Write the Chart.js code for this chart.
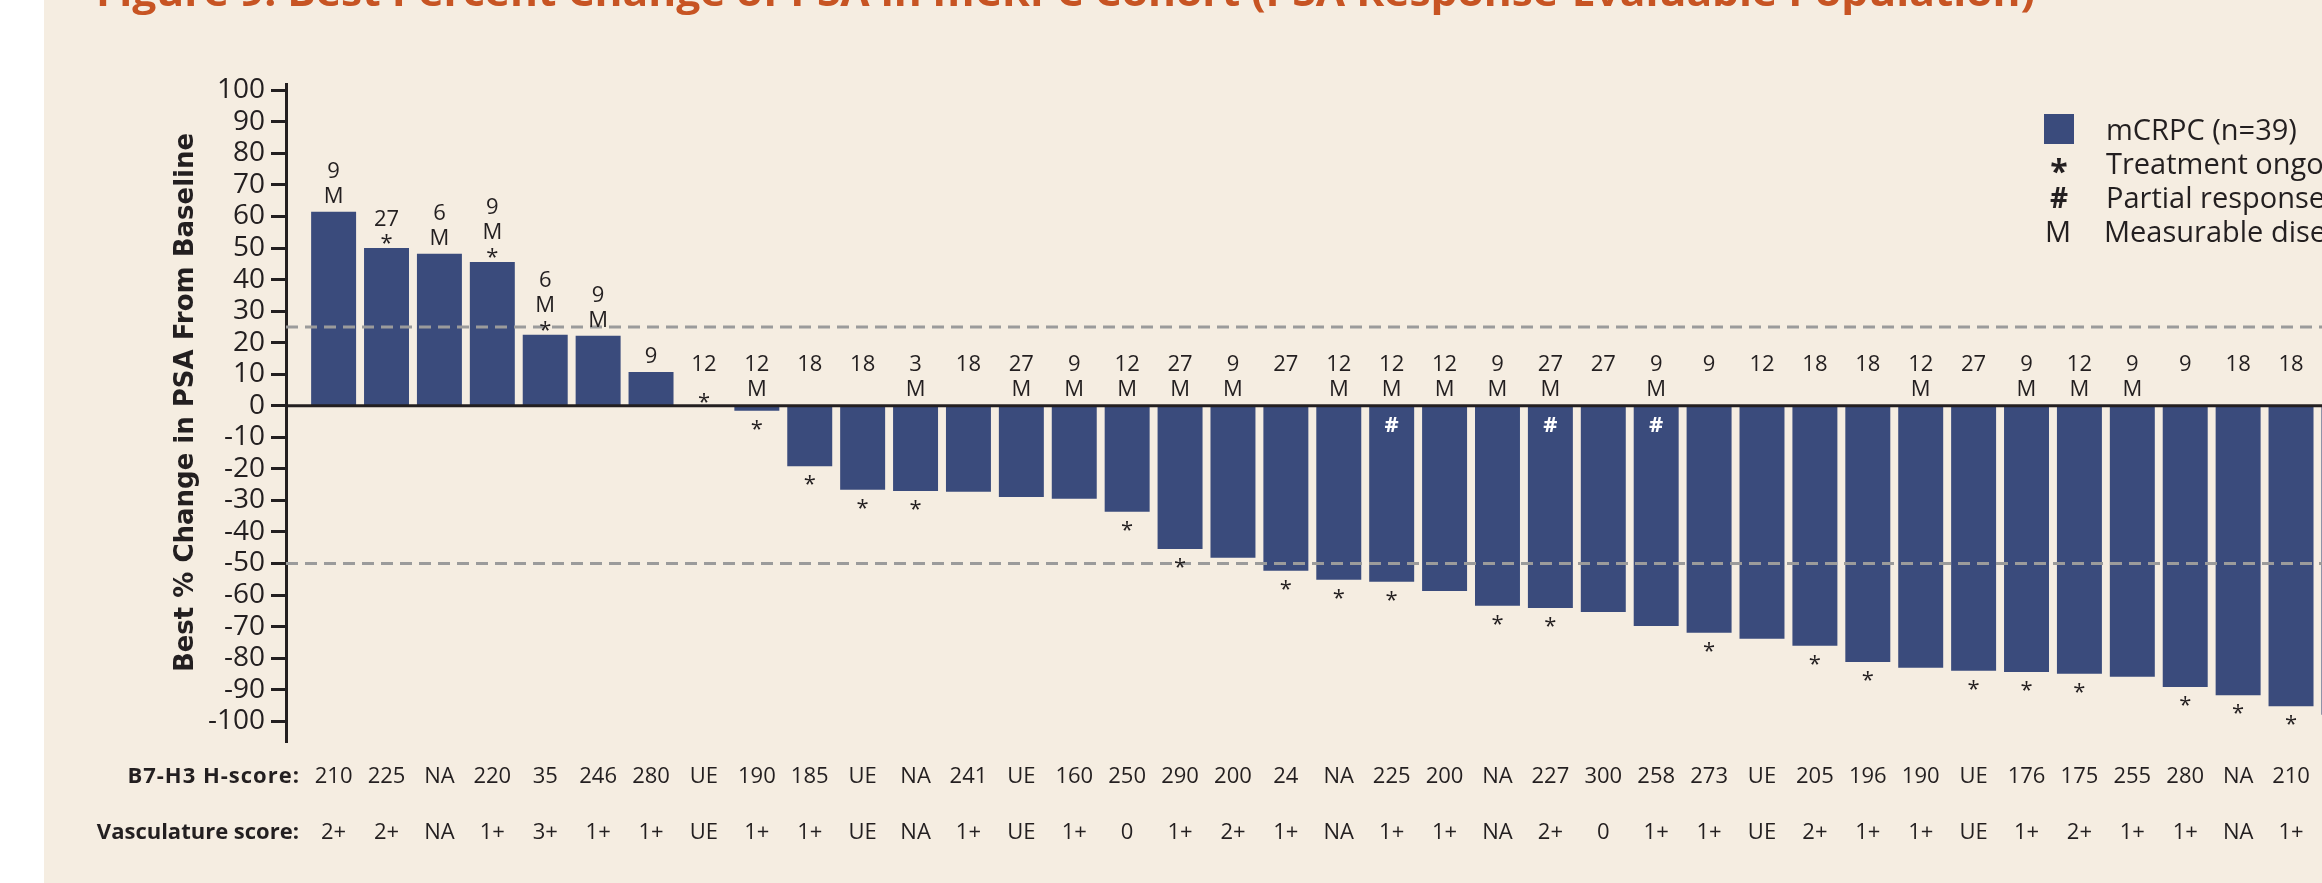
<!DOCTYPE html>
<html lang="en">
<head>
<meta charset="UTF-8">
<title>Best Percent Change of PSA in mCRPC Cohort</title>
<style>
  html, body { margin: 0; padding: 0; overflow: hidden; background: #fff; }
  #frame { position: relative; width: 2322px; height: 883px; overflow: hidden; background: #fff; }
  #paper { position: absolute; left: 44px; top: 0; right: 0; bottom: 0; background: #f5ede1; }
  #myChart { position: absolute; left: 0; top: 0; }
</style>
</head>
<body>
<div id="frame">
  <div id="paper"></div>
  <canvas id="myChart" width="2500" height="883"></canvas>
</div>

<script src="https://cdn.jsdelivr.net/npm/chart.js"></script>
<script>
  // best % change in PSA from baseline, one bar per patient (sorted)
  var psaChange = [61.5, 50.0, 48.2, 45.6, 22.5, 22.2, 10.7, 0, -1.6, -19.2,
    -26.6, -27.0, -27.3, -28.9, -29.5, -33.6, -45.4, -48.2, -52.3, -55.2,
    -55.8, -58.7, -63.4, -64.1, -65.4, -69.8, -72.0, -73.9, -76.1, -81.2,
    -83.1, -84.0, -84.4, -85.0, -85.9, -89.2, -91.8, -95.3, -98.0];

  // months on treatment, shown above each bar
  var months = ['9', '27', '6', '9', '6', '9', '9', '12', '12', '18',
    '18', '3', '18', '27', '9', '12', '27', '9', '27', '12',
    '12', '12', '9', '27', '27', '9', '9', '12', '18', '18',
    '12', '27', '9', '12', '9', '9', '18', '18', ''];

  // M = measurable disease, * = treatment ongoing, # = partial response
  var measurable = [1, 0, 1, 1, 1, 1, 0, 0, 1, 0, 0, 1, 0, 1, 1, 1, 1, 1, 0, 1,
    1, 1, 1, 1, 0, 1, 0, 0, 0, 0, 1, 0, 1, 1, 1, 0, 0, 0, 0];
  var ongoing = [0, 1, 0, 1, 1, 0, 0, 1, 1, 1, 1, 1, 0, 0, 0, 1, 1, 0, 1, 1,
    1, 0, 1, 1, 0, 0, 1, 0, 1, 1, 0, 1, 1, 1, 0, 1, 1, 1, 0];
  var partial = [0, 0, 0, 0, 0, 0, 0, 0, 0, 0, 0, 0, 0, 0, 0, 0, 0, 0, 0, 0,
    1, 0, 0, 1, 0, 1, 0, 0, 0, 0, 0, 0, 0, 0, 0, 0, 0, 0, 0];

  var hScore = ['210', '225', 'NA', '220', '35', '246', '280', 'UE', '190', '185',
    'UE', 'NA', '241', 'UE', '160', '250', '290', '200', '24', 'NA',
    '225', '200', 'NA', '227', '300', '258', '273', 'UE', '205', '196',
    '190', 'UE', '176', '175', '255', '280', 'NA', '210', ''];
  var vascScore = ['2+', '2+', 'NA', '1+', '3+', '1+', '1+', 'UE', '1+', '1+',
    'UE', 'NA', '1+', 'UE', '1+', '0', '1+', '2+', '1+', 'NA',
    '1+', '1+', 'NA', '2+', '0', '1+', '1+', 'UE', '2+', '1+',
    '1+', 'UE', '1+', '2+', '1+', '1+', 'NA', '1+', ''];

  var yTicks = [100, 90, 80, 70, 60, 50, 40, 30, 20, 10, 0,
    -10, -20, -30, -40, -50, -60, -70, -80, -90, -100];
  var refLines = [25, -50];

  var ink = '#231f20';
  var barColor = '#3a4b7c';
  var sans = '"Open Sans"';

  // labels, reference lines, legend and headings drawn on top of the bars
  var annotate = {
    id: 'annotate',
    beforeDraw: function(chart) {
      var ctx = chart.ctx;
      var title = 'Figure 9: Best Percent Change of PSA in mCRPC Cohort (PSA Response-Evaluable Population)';
      ctx.save();
      ctx.font = 'bold 40px ' + sans;
      var w = ctx.measureText(title).width;
      ctx.translate(96, 6);
      ctx.scale(1939 / w, 1);
      ctx.fillStyle = '#c75423';
      ctx.textAlign = 'left';
      ctx.textBaseline = 'alphabetic';
      ctx.fillText(title, 0, 0);
      ctx.restore();
    },
    afterDatasetsDraw: function(chart) {
      var ctx = chart.ctx, area = chart.chartArea;
      var x = chart.scales.x, y = chart.scales.y;
      var y0 = y.getPixelForValue(0);
      ctx.save();

      ctx.strokeStyle = '#9b9b9b';
      ctx.lineWidth = 3;
      ctx.setLineDash([12, 7]);
      refLines.forEach(function(v) {
        var py = y.getPixelForValue(v);
        ctx.beginPath();
        ctx.moveTo(area.left, py);
        ctx.lineTo(area.right, py);
        ctx.stroke();
      });
      ctx.setLineDash([]);

      ctx.strokeStyle = ink;
      ctx.lineWidth = 3;
      ctx.beginPath();
      ctx.moveTo(area.left, y0);
      ctx.lineTo(area.right, y0);
      ctx.stroke();

      ctx.textAlign = 'center';
      ctx.textBaseline = 'alphabetic';
      psaChange.forEach(function(v, i) {
        var px = x.getPixelForValue(i + 1);
        var py = y.getPixelForValue(v);
        ctx.fillStyle = ink;
        ctx.font = '22px ' + sans;
        if (v > 0) {
          var b = py;
          if (ongoing[i]) { ctx.fillText('*', px, b + 2); b -= 22.5; } else { b -= 9; }
          if (measurable[i]) { ctx.fillText('M', px, b); b -= 25; }
          ctx.fillText(months[i], px, b);
        } else {
          ctx.fillText(months[i], px, y0 - 35);
          if (measurable[i]) ctx.fillText('M', px, y0 - 10);
          if (ongoing[i]) ctx.fillText('*', px, v < 0 ? py + 25 : y0 + 3);
        }
        if (partial[i]) {
          ctx.fillStyle = '#fff';
          ctx.font = 'bold 22px ' + sans;
          ctx.fillText('#', px, y0 + 26);
        }
      });
      ctx.restore();
    },
    afterDraw: function(chart) {
      var ctx = chart.ctx, area = chart.chartArea;
      ctx.save();
      ctx.fillStyle = ink;

      // y axis title
      ctx.save();
      ctx.translate(186, 402.5);
      ctx.rotate(-Math.PI / 2);
      ctx.font = 'bold 26px "DejaVu Sans"';
      ctx.textAlign = 'center';
      ctx.textBaseline = 'middle';
      ctx.fillText('Best % Change in PSA From Baseline', 0, 0);
      ctx.restore();

      // row headings for the two score rows
      ctx.font = 'bold 22px ' + sans;
      ctx.textAlign = 'right';
      ctx.textBaseline = 'middle';
      ctx.letterSpacing = '1px';
      ctx.fillText('B7-H3 H-score:', 300, area.bottom + 35);
      ctx.letterSpacing = '0px';
      ctx.fillText('Vasculature score:', 299, area.bottom + 91);

      // legend
      ctx.fillStyle = barColor;
      ctx.fillRect(2044, 114, 30, 30);
      ctx.fillStyle = ink;
      ctx.textBaseline = 'alphabetic';
      ctx.textAlign = 'left';
      ctx.font = '29px ' + sans;
      ctx.fillText('mCRPC (n=39)', 2106, 140);
      ctx.fillText('Treatment ongoing', 2106, 174);
      ctx.fillText('Partial response', 2106, 208);
      ctx.fillText('Measurable disease', 2104, 242);
      ctx.textAlign = 'center';
      ctx.font = 'bold 32px ' + sans;
      ctx.fillText('*', 2059, 183);
      ctx.font = 'bold 28px ' + sans;
      ctx.fillText('#', 2059, 208);
      ctx.font = '29px ' + sans;
      ctx.fillText('M', 2058, 242);
      ctx.restore();
    }
  };

  var ctx = document.getElementById('myChart').getContext('2d');
  var myChart = new Chart(ctx, {
    type: 'bar',
    data: {
      datasets: [{
        label: 'mCRPC (n=39)',
        data: psaChange.map(function(v, i) { return { x: i + 1, y: v }; }),
        backgroundColor: barColor,
        borderWidth: 0,
        barPercentage: 0.85,
        categoryPercentage: 1
      }]
    },
    options: {
      responsive: false,
      animation: false,
      events: [],
      layout: { padding: { top: 84, right: 0, bottom: 0, left: 0 } },
      plugins: {
        legend: { display: false },
        tooltip: { enabled: false }
      },
      scales: {
        x: {
          type: 'linear',
          offset: false,
          min: 0.1,
          max: 41.95,
          grid: { display: false, drawTicks: false, offset: false },
          border: { display: false },
          afterBuildTicks: function(axis) {
            axis.ticks = psaChange.map(function(v, i) { return { value: i + 1 }; });
          },
          afterFit: function(axis) { axis.height = 141; },
          ticks: {
            autoSkip: false,
            maxRotation: 0,
            padding: 7,
            color: ink,
            font: { family: 'Open Sans', size: 22, lineHeight: '56px' },
            callback: function(value) {
              var i = Math.round(value) - 1;
              return [hScore[i], vascScore[i]];
            }
          }
        },
        y: {
          min: -106.6,
          max: 102,
          afterBuildTicks: function(axis) {
            axis.ticks = yTicks.map(function(v) { return { value: v }; });
          },
          afterFit: function(axis) { axis.width = 286; },
          grid: { drawOnChartArea: false, drawTicks: true, tickLength: 15, tickWidth: 3, tickColor: ink },
          border: { display: true, color: ink, width: 3 },
          ticks: {
            autoSkip: false,
            padding: 6,
            color: ink,
            font: { family: 'Open Sans', size: 28 },
            callback: function(v) { return String(v); }
          }
        }
      }
    },
    plugins: [annotate]
  });
</script>
</body>
</html>
